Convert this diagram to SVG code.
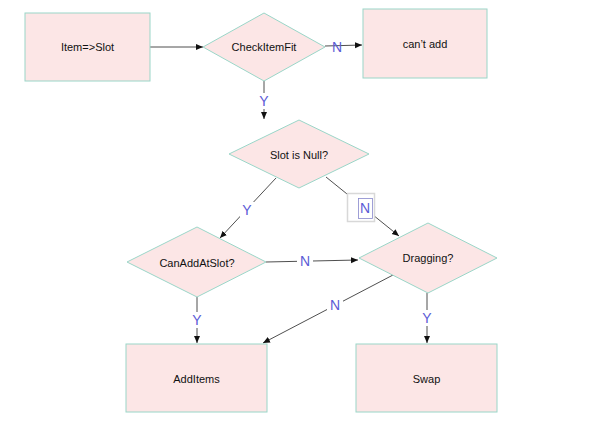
<svg xmlns="http://www.w3.org/2000/svg" width="594" height="431" viewBox="0 0 594 431">
<defs>
<marker id="ah" markerWidth="8" markerHeight="8" refX="7" refY="4" orient="auto" markerUnits="userSpaceOnUse">
<path d="M0,1 L7,4 L0,7 Z" fill="#111"/>
</marker>
<style>
.shape{fill:#fce6e6;stroke:#9ad6c8;stroke-width:1}
.t{font-family:"Liberation Sans",Arial,sans-serif;font-size:11px;fill:#111;text-anchor:middle;dominant-baseline:central}
.c{stroke:#222;stroke-width:0.8;fill:none;marker-end:url(#ah)}
.l{font-family:"Liberation Sans",Arial,sans-serif;font-size:14px;fill:#5b5bd6;text-anchor:middle;dominant-baseline:central}
.lb{fill:#fff}
</style>
</defs>
<rect width="594" height="431" fill="#fff"/>
<g id="connectors">
<line class="c" x1="150" y1="47" x2="203" y2="47"/>
<line class="c" x1="325" y1="46" x2="362" y2="45"/>
<line class="c" x1="264" y1="81" x2="264" y2="119"/>
<line class="c" x1="276" y1="178" x2="220" y2="238"/>
<line class="c" x1="326" y1="177" x2="399" y2="236"/>
<line class="c" x1="266" y1="262" x2="358" y2="260"/>
<line class="c" x1="393" y1="275" x2="263" y2="343"/>
<line class="c" x1="197" y1="297" x2="197" y2="343"/>
<line class="c" x1="427" y1="293" x2="427" y2="343"/>
<text class="l" x="337" y="47">N</text>
<rect class="lb" x="257" y="93" width="13" height="16"/>
<text class="l" x="264" y="101">Y</text>
<rect class="lb" x="240" y="202" width="14" height="16"/>
<text class="l" x="247" y="210">Y</text>
<rect x="347.5" y="193.5" width="27" height="28" fill="#fff" stroke="#d8d8d8" stroke-width="1.5"/>
<rect x="358.5" y="198.5" width="14" height="20" fill="none" stroke="#8888cc" stroke-width="0.8"/>
<text class="l" x="365" y="208">N</text>
<rect class="lb" x="297" y="253" width="16" height="16"/>
<text class="l" x="305" y="261">N</text>
<rect class="lb" x="327" y="297" width="16" height="16"/>
<text class="l" x="335" y="305">N</text>
<rect class="lb" x="190" y="312" width="14" height="16"/>
<text class="l" x="197" y="320">Y</text>
<rect class="lb" x="420" y="310" width="14" height="16"/>
<text class="l" x="427" y="318">Y</text>
</g>
<g id="item-slot">
<rect class="shape" x="25" y="13" width="125" height="68"/>
<text class="t" x="87.5" y="47">Item=&gt;Slot</text>
</g>
<g id="check-item-fit">
<polygon class="shape" points="264,13 325,47 264,81 203,47"/>
<text class="t" x="264" y="47">CheckItemFit</text>
</g>
<g id="cant-add">
<rect class="shape" x="363" y="9" width="124" height="69"/>
<text class="t" x="425" y="44">can’t add</text>
</g>
<g id="slot-is-null">
<polygon class="shape" points="299,120 369,154 299,188 229,154"/>
<text class="t" x="299" y="155">Slot is Null?</text>
</g>
<g id="can-add-at-slot">
<polygon class="shape" points="197,227 266,262 197,297 127,262"/>
<text class="t" x="197" y="263">CanAddAtSlot?</text>
</g>
<g id="dragging">
<polygon class="shape" points="428,223 497,258 428,293 359,258"/>
<text class="t" x="428" y="258">Dragging?</text>
</g>
<g id="add-items">
<rect class="shape" x="126" y="344" width="141" height="68"/>
<text class="t" x="196.5" y="379">AddItems</text>
</g>
<g id="swap">
<rect class="shape" x="356" y="344" width="141" height="68"/>
<text class="t" x="426.5" y="379">Swap</text>
</g>
</svg>
